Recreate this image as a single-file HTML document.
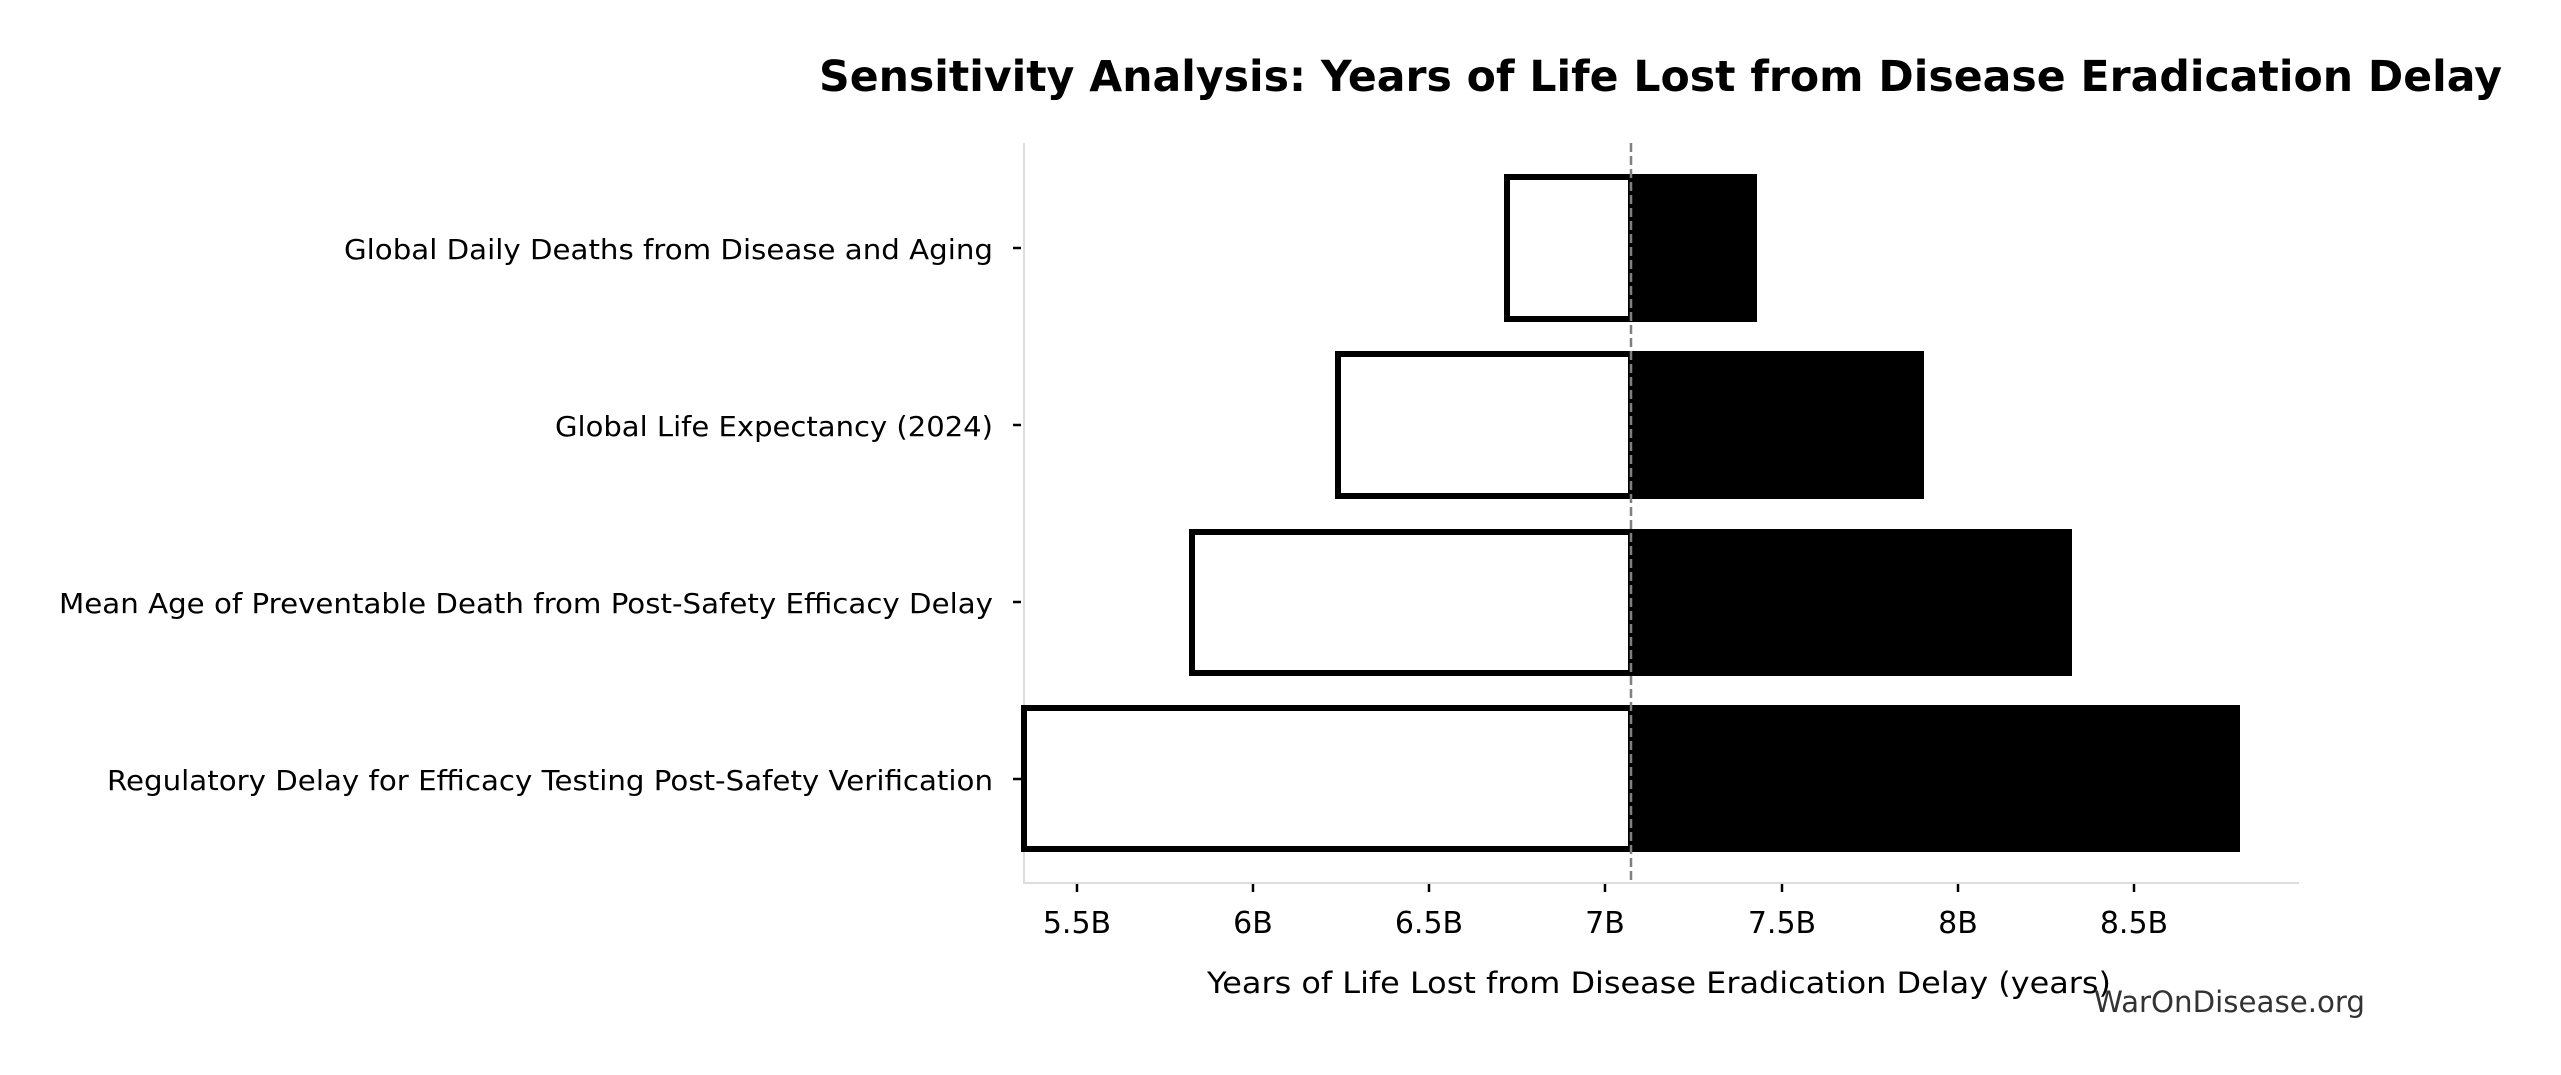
<!DOCTYPE html>
<html><head><meta charset="utf-8"><style>html,body{margin:0;padding:0;background:#fff}svg{display:block}</style></head>
<body>
<svg width="2561" height="1075" viewBox="0 0 2561 1075" xmlns="http://www.w3.org/2000/svg" font-family="DejaVu Sans, Liberation Sans, sans-serif">
<rect width="2561" height="1075" fill="#fff"/>
<text x="819" y="91" font-size="43" font-weight="bold" textLength="1683" lengthAdjust="spacingAndGlyphs">Sensitivity Analysis: Years of Life Lost from Disease Eradication Delay</text>
<!-- axes -->
<line x1="1024" y1="143" x2="1024" y2="884" stroke="#dddddd" stroke-width="2"/>
<line x1="1023" y1="883" x2="2299" y2="883" stroke="#dddddd" stroke-width="2"/>
<!-- bars -->
<rect x="1631" y="174" width="126" height="148" fill="#000"/>
<rect x="1507" y="177" width="124" height="142" fill="#fff" stroke="#000" stroke-width="6"/>
<rect x="1631" y="351" width="293" height="148" fill="#000"/>
<rect x="1338" y="354" width="293" height="142" fill="#fff" stroke="#000" stroke-width="6"/>
<rect x="1631" y="529" width="441" height="147" fill="#000"/>
<rect x="1192" y="532" width="439" height="141" fill="#fff" stroke="#000" stroke-width="6"/>
<rect x="1631" y="705" width="609" height="147" fill="#000"/>
<rect x="1024" y="708" width="607" height="141" fill="#fff" stroke="#000" stroke-width="6"/>
<line x1="1024" y1="705" x2="1024" y2="852" stroke="#000" stroke-width="3"/>
<!-- dashed baseline -->
<line x1="1631" y1="143" x2="1631" y2="883" stroke="#808080" stroke-width="2.5" stroke-dasharray="9,4"/>
<!-- y ticks -->
<g stroke="#000" stroke-width="2.5">
<line x1="1013" y1="248" x2="1021" y2="248"/>
<line x1="1013" y1="425" x2="1021" y2="425"/>
<line x1="1013" y1="602" x2="1021" y2="602"/>
<line x1="1013" y1="779" x2="1021" y2="779"/>
</g>
<g font-size="28">
<text x="344" y="259" textLength="649" lengthAdjust="spacingAndGlyphs">Global Daily Deaths from Disease and Aging</text>
<text x="555" y="436" textLength="438" lengthAdjust="spacingAndGlyphs">Global Life Expectancy (2024)</text>
<text x="59" y="613" textLength="934" lengthAdjust="spacingAndGlyphs">Mean Age of Preventable Death from Post-Safety Efficacy Delay</text>
<text x="107" y="790" textLength="886" lengthAdjust="spacingAndGlyphs">Regulatory Delay for Efficacy Testing Post-Safety Verification</text>
</g>
<!-- x ticks -->
<g stroke="#000" stroke-width="2.5">
<line x1="1077" y1="884" x2="1077" y2="892"/>
<line x1="1253" y1="884" x2="1253" y2="892"/>
<line x1="1429" y1="884" x2="1429" y2="892"/>
<line x1="1605" y1="884" x2="1605" y2="892"/>
<line x1="1782" y1="884" x2="1782" y2="892"/>
<line x1="1958" y1="884" x2="1958" y2="892"/>
<line x1="2134" y1="884" x2="2134" y2="892"/>
</g>
<g font-size="30" text-anchor="middle">
<text x="1077" y="933">5.5B</text>
<text x="1253" y="933">6B</text>
<text x="1429" y="933">6.5B</text>
<text x="1605" y="933">7B</text>
<text x="1782" y="933">7.5B</text>
<text x="1958" y="933">8B</text>
<text x="2134" y="933">8.5B</text>
</g>
<text x="1207" y="993" font-size="29" textLength="904" lengthAdjust="spacingAndGlyphs">Years of Life Lost from Disease Eradication Delay (years)</text>
<text x="2094" y="1012" font-size="29" fill="#333" textLength="271" lengthAdjust="spacingAndGlyphs">WarOnDisease.org</text>
</svg>
</body></html>
